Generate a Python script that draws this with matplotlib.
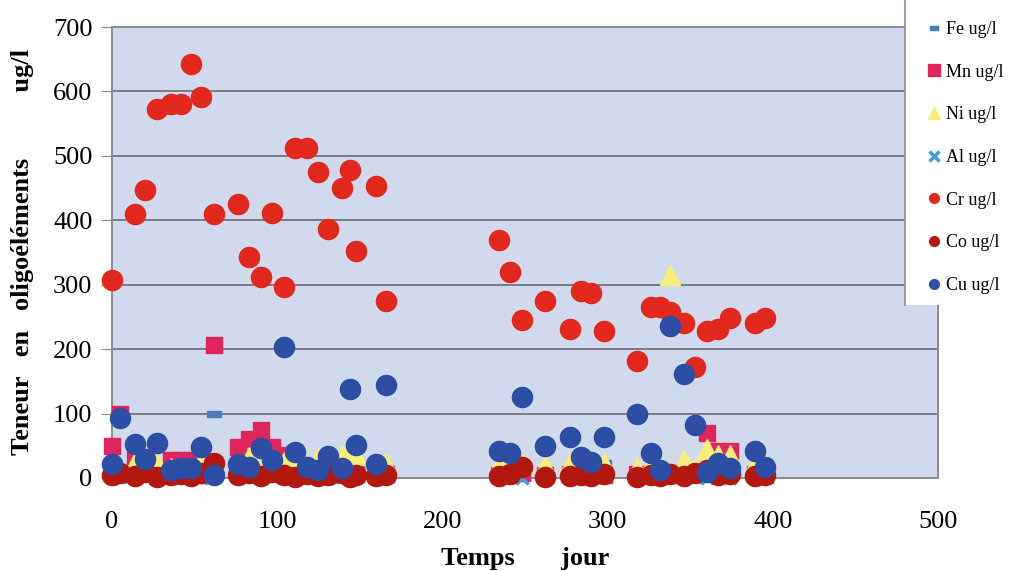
import matplotlib.pyplot as plt
import numpy as np
from matplotlib.lines import Line2D
from matplotlib.patches import Rectangle

plt.rcParams['font.family'] = ['Liberation Serif', 'DejaVu Serif']

nan = np.nan

# jours de prelevement
jours = [0, 5, 14, 20, 27, 36, 42, 48, 54, 62, 76, 83, 90, 97, 104,
         111, 118, 125, 131, 139, 144, 148, 160, 166,
         234, 241, 248, 262, 277, 284, 290, 298,
         318, 326, 332, 338, 346, 353, 360, 367, 374, 389, 395]

fe = [3, 6, 4, 5, 3, 6, 4, 5, 3, 100, 4, 6, 3, 5, 4,
      6, 3, 5, 4, 6, 5, 4, 5, 16,
      6, 4, 5, 3, 6, 4, 5, 23,
      4, 6, 3, 5, 4, 6, 5, 4, 6, 5, 4]
mn = [50, 100, 33, 10, 8, 28, 28, 28, 5, 207, 48, 60, 75, 48, 36,
      10, 6, 8, 5, 6, 5, 6, 5, 6,
      5, 6, 8, 5, 6, 5, 6, 5,
      6, 5, 6, 8, 6, 8, 70, 42, 42, 6, 5]
ni = [10, nan, 25, 15, 23, 15, 15, 10, 26, 15, 15, 33, 25, 20, 25,
      28, 15, 31, 20, 36, 33, 36, 20, 23,
      22, 22, 23, 20, 23, 15, 15, 23,
      15, 23, 10, 315, 28, 15, 45, 36, 36, 23, 15]
al = [0, 1, 0, 2, 0, 1, 0, 1, 0, 2, 0, 1, 0, 1, 0,
      1, 0, 1, 0, 2, 0, 1, 0, 1,
      0, 1, 0, 1, 0, 2, 0, 1,
      0, 1, 0, 1, 0, 2, 0, 1, 0, 1, 0]
cr = [307, nan, 410, 447, 572, 580, 580, 642, 592, 409, 425, 343, 312, 412, 296,
      512, 512, 475, 387, 450, 478, 353, 453, 275,
      369, 320, 245, 275, 232, 290, 287, 228,
      182, 265, 265, 257, 240, 173, 228, 232, 248, 240, 248]
co = [5, 8, 3, 10, 2, 4, 6, 3, 8, 23, 4, 7, 3, 9, 5,
      2, 6, 3, 4, 7, 2, 5, 3, 4,
      3, 6, 17, 2, 3, 5, 3, 6,
      2, 4, 3, 6, 3, 8, 12, 4, 6, 3, 5]
cu = [21, 93, 53, 30, 54, 12, 16, 16, 48, 5, 22, 17, 46, 28, 203,
      40, 17, 13, 34, 16, 138, 51, 21, 145,
      42, 39, 125, 50, 63, 33, 25, 63,
      100, 39, 12, 236, 161, 83, 10, 23, 16, 42, 17]

series = ['Fe ug/l', 'Mn ug/l', 'Ni ug/l', 'Al ug/l', 'Cr ug/l', 'Co ug/l', 'Cu ug/l']
couleurs = ['#4a7ebb', '#e0245c', '#f6ee78', '#3c9ee0', '#e2271d', '#b3180f', '#2c4ea4']

# tiret horizontal pour Fe
tiret = [(-1, -0.4), (1, -0.4), (1, 0.4), (-1, 0.4), (-1, -0.4)]

fig = plt.figure(figsize=(10.19, 5.71), dpi=100)
ax = fig.add_axes([0.1099, 0.1629, 0.8106, 0.7898])
ax.set_facecolor('#d1daed')

styles = [
    (fe, dict(marker=tiret, markersize=10)),
    (mn, dict(marker='s', markersize=12)),
    (ni, dict(marker='^', markersize=14)),
    (al, dict(marker='x', markersize=8, markeredgewidth=2.5)),
    (cr, dict(marker='o', markersize=14.5)),
    (co, dict(marker='o', markersize=14.5)),
    (cu, dict(marker='o', markersize=14.5)),
]
for i, (vals, st) in enumerate(styles):
    c = couleurs[i]
    ax.plot(jours, vals, linestyle='none', color=c, markeredgecolor=c,
            clip_on=False, zorder=3 + i, **st)

ax.set_xlim(0, 500)
ax.set_ylim(0, 700)
ax.set_xticks(range(0, 501, 100))
ax.set_yticks(range(0, 701, 100))
ax.grid(axis='y', color='#7a7a84', linewidth=1.4)
ax.set_axisbelow(True)
for s in ['left', 'right', 'bottom', 'top']:
    ax.spines[s].set_color('#8a8a94')
    ax.spines[s].set_linewidth(1.4)
ax.tick_params(axis='y', length=8, color='#8a8a94', labelsize=19, pad=6)
ax.tick_params(axis='x', length=0, labelsize=19, pad=24)

ax.set_ylabel('Teneur   en   oligoéléments          ug/l', fontsize=19,
              fontweight='bold', labelpad=14)
ax.set_xlabel('Temps       jour', fontsize=19, fontweight='bold', labelpad=10)

# cadre blanc de la legende, bord gauche seulement
fig.add_artist(Rectangle((905 / 1019, 1 - 305 / 571), 114 / 1019, 305 / 571,
                         transform=fig.transFigure, facecolor='white',
                         edgecolor='none', zorder=20))
fig.add_artist(Line2D([905 / 1019, 905 / 1019], [1 - 305 / 571, 1.0],
                      transform=fig.transFigure, color='#8a8a94', linewidth=1.2,
                      zorder=21))

handles = [
    Line2D([], [], linestyle='none', marker=tiret, markersize=6, color=couleurs[0]),
    Line2D([], [], linestyle='none', marker='s', markersize=8, color=couleurs[1]),
    Line2D([], [], linestyle='none', marker='^', markersize=9, color=couleurs[2]),
    Line2D([], [], linestyle='none', marker='x', markersize=7, markeredgewidth=2.5, color=couleurs[3]),
    Line2D([], [], linestyle='none', marker='o', markersize=7, color=couleurs[4]),
    Line2D([], [], linestyle='none', marker='o', markersize=7, color=couleurs[5]),
    Line2D([], [], linestyle='none', marker='o', markersize=7, color=couleurs[6]),
]
leg = fig.legend(handles, series, loc='upper left',
                 bbox_to_anchor=(927 / 1019, 1 - 21 / 571),
                 frameon=False, fontsize=13, labelspacing=1.42,
                 handlelength=0.8, handletextpad=0.25, borderpad=0,
                 borderaxespad=0)
leg.set_zorder(22)

fig.savefig('out.png', dpi=100)
